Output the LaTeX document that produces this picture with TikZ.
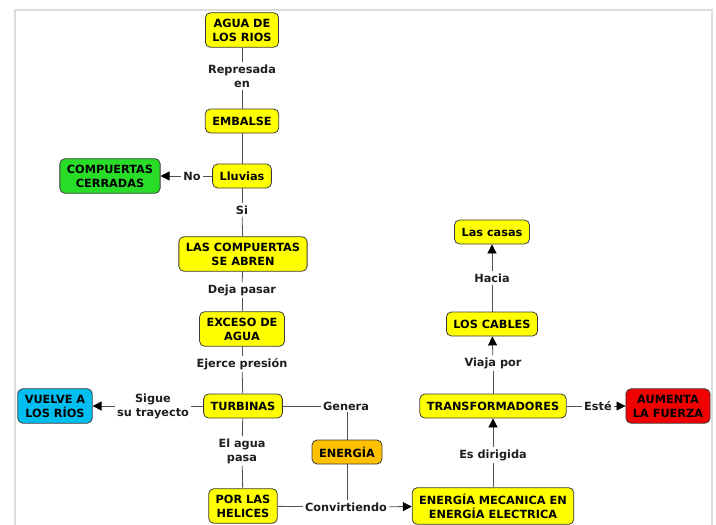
\documentclass[tikz,border=0pt]{standalone}
\usepackage{fontspec}
\setmainfont{DejaVu Sans}
\usetikzlibrary{arrows.meta}
\definecolor{cyel}{RGB}{255,255,0}
\definecolor{cgreen}{RGB}{40,220,40}
\definecolor{cblue}{RGB}{0,190,240}
\definecolor{corange}{RGB}{255,192,0}
\definecolor{cred}{RGB}{240,0,0}
\definecolor{cline}{RGB}{80,80,80}
\definecolor{cborder}{RGB}{60,60,60}
\definecolor{cframe}{RGB}{220,220,220}
\begin{document}
\begin{tikzpicture}[x=1pt,y=-1pt,
  concept/.style={draw=cborder, line width=0.8pt, rounded corners=5pt, fill=cyel,
    align=center, font=\bfseries\fontsize{11.3}{14}\selectfont, inner xsep=7pt, inner ysep=6pt,
    minimum height=24pt, text=black},
  lbl/.style={align=center, font=\bfseries\fontsize{11.3}{14}\selectfont, inner sep=2pt, text={rgb,255:red,30;green,30;blue,30}},
  conn/.style={draw=cline, line width=0.8pt},
  arr/.style={conn, -{Triangle[length=9pt,width=9pt,color=black,fill=black]}}]
\useasboundingbox (0,0) rectangle (716,525);
\fill[white] (0,0) rectangle (716,525);
\draw[cframe, line width=1.5pt] (15,525) -- (15,10) -- (712,10) -- (712,525);

% concepts
\node[concept] (agua) at (242,30) {AGUA DE\\LOS RIOS};
\node[concept] (emb) at (242,121) {EMBALSE};
\node[concept] (llu) at (242,176) {Lluvias};
\node[concept, fill=cgreen] (cerr) at (110,176) {COMPUERTAS\\CERRADAS};
\node[concept] (abren) at (243,254) {LAS COMPUERTAS\\SE ABREN};
\node[concept] (exc) at (242,329) {EXCESO DE\\AGUA};
\node[concept] (turb) at (243,406) {TURBINAS};
\node[concept, fill=cblue] (vuel) at (55,406) {VUELVE A\\LOS RÍOS};
\node[concept] (hel) at (243,506) {POR LAS\\HELICES};
\node[concept, fill=corange] (ener) at (347,452) {ENERGÍA};
\node[concept] (mec) at (493,506) {ENERGÍA MECANICA EN\\ENERGÍA ELECTRICA};
\node[concept] (trans) at (493,406) {TRANSFORMADORES};
\node[concept, fill=cred] (aum) at (668,406) {AUMENTA\\LA FUERZA};
\node[concept] (cab) at (492,324) {LOS CABLES};
\node[concept] (casas) at (492,232) {Las casas};

% labels
\node[lbl] (l1) at (242,76) {Represada\\en};
\node[lbl] (l2) at (192,176) {No};
\node[lbl] (l3) at (242,210) {Si};
\node[lbl] (l4) at (242,290) {Deja pasar};
\node[lbl] (l5) at (242,364) {Ejerce presión};
\node[lbl] (l6) at (153,406) {Sigue\\su trayecto};
\node[lbl] (l7) at (242,451) {El agua\\pasa};
\node[lbl] (l8) at (346,406) {Genera};
\node[lbl] (l9) at (346,507) {Convirtiendo};
\node[lbl] (l10) at (493,455) {Es dirigida};
\node[lbl] (l11) at (598,406) {Esté};
\node[lbl] (l12) at (493,363) {Viaja por};
\node[lbl] (l13) at (492,278) {Hacia};

% connectors
\draw[conn] (agua) -- (l1);
\draw[conn] (l1) -- (emb);
\draw[conn] (emb) -- (llu);
\draw[conn] (llu) -- (l2);
\draw[arr] (l2) -- (cerr);
\draw[conn] (llu) -- (l3);
\draw[conn] (l3) -- (abren);
\draw[conn] (abren) -- (l4);
\draw[conn] (l4) -- (exc);
\draw[conn] (exc) -- (l5);
\draw[conn] (l5) -- (turb);
\draw[conn] (turb) -- (l6);
\draw[arr] (l6) -- (vuel);
\draw[conn] (turb) -- (l7);
\draw[conn] (l7) -- (hel);
\draw[conn] (turb) -- (l8);
\draw[conn] (l8.south -| ener.north) -- (ener);
\draw[conn] (ener) -- (l9.north -| ener.south);
\draw[conn] (hel) -- (l9);
\draw[arr] (l9) -- (mec);
\draw[conn] (mec) -- (l10);
\draw[arr] (l10) -- (trans);
\draw[conn] (trans) -- (l11);
\draw[arr] (l11) -- (aum);
\draw[conn] (trans) -- (l12);
\draw[arr] (l12) -- (cab);
\draw[conn] (cab) -- (l13);
\draw[arr] (l13) -- (casas);
\end{tikzpicture}
\end{document}
